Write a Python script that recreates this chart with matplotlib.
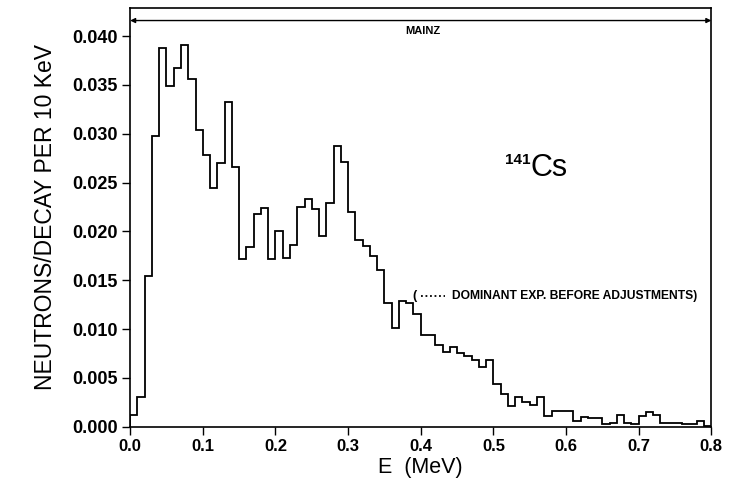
import numpy as np
import matplotlib.pyplot as plt

plt.rcParams['font.family'] = ['Liberation Sans', 'DejaVu Sans']

# neutron spectrum, 10 keV bins from 0 to 0.8 MeV
edges = np.round(np.arange(0, 81) * 0.01, 2)
counts = [
    0.0012, 0.0031, 0.0154, 0.0298, 0.0388, 0.0349, 0.0367, 0.0391, 0.0356, 0.0304,
    0.0278, 0.0245, 0.0270, 0.0333, 0.0266, 0.0172, 0.0184, 0.0218, 0.0224, 0.0172,
    0.0200, 0.0173, 0.0186, 0.0225, 0.0233, 0.0223, 0.0195, 0.0229, 0.0288, 0.0271,
    0.0220, 0.0191, 0.0185, 0.0175, 0.0161, 0.0127, 0.0101, 0.0129, 0.0127, 0.0116,
    0.0094, 0.0094, 0.0084, 0.0077, 0.0082, 0.0076, 0.0072, 0.0068, 0.0061, 0.0068,
    0.0044, 0.0034, 0.0021, 0.0031, 0.0025, 0.0022, 0.0031, 0.0011, 0.0016, 0.0016,
    0.0016, 0.0006, 0.0010, 0.0009, 0.0009, 0.0003, 0.0004, 0.0012, 0.0004, 0.0003,
    0.0011, 0.0015, 0.0012, 0.0004, 0.0004, 0.0004, 0.0003, 0.0003, 0.0006, 0.0001,
]
xticks = [0.0, 0.1, 0.2, 0.3, 0.4, 0.5, 0.6, 0.7, 0.8]
yticks = [0.000, 0.005, 0.010, 0.015, 0.020, 0.025, 0.030, 0.035, 0.040]

fig = plt.figure(figsize=(7.48, 4.90), dpi=100)
ax = fig.add_axes([0.174, 0.129, 0.777, 0.855])

ax.stairs(counts, edges, color='black', lw=1.3)

ax.set_xlim(0, 0.8)
ax.set_ylim(0, 0.0429)
ax.set_xticks(xticks)
ax.set_xticklabels(['%.1f' % t for t in xticks], fontweight='bold', fontsize=12)
ax.set_yticks(yticks)
ax.set_yticklabels(['%.3f' % t for t in yticks], fontweight='bold', fontsize=13)
ax.tick_params(direction='out', length=6, width=1, pad=3)
for s in ax.spines.values():
    s.set_linewidth(1.2)

ax.set_xlabel('E  (MeV)', fontsize=15.5, labelpad=2)
ax.set_ylabel('NEUTRONS/DECAY PER 10 KeV', fontsize=16.5, labelpad=11)

# Mainz range arrow along the top
ax.annotate('', xy=(0.8, 0.0416), xytext=(0.0, 0.0416),
            arrowprops=dict(arrowstyle='<|-|>', lw=1, color='black',
                            shrinkA=0, shrinkB=0, mutation_scale=7))
ax.text(0.403, 0.0405, 'MAINZ', ha='center', va='center', fontsize=8, fontweight='bold')

# isotope label
ax.text(0.516, 0.02695, '141', fontsize=11, fontweight='bold', ha='left', va='baseline')
ax.text(0.551, 0.0257, 'Cs', fontsize=22, ha='left', va='baseline')

# note on the dominant experiment
ax.text(0.388, 0.01335, '(', ha='left', va='center', fontsize=9, fontweight='bold')
ax.plot([0.401, 0.434], [0.01335, 0.01335], color='black', lw=1.3, ls=(0, (1, 1.5)))
ax.text(0.443, 0.01335, 'DOMINANT EXP. BEFORE ADJUSTMENTS)',
        ha='left', va='center', fontsize=8.7, fontweight='bold')

fig.savefig('out.png', dpi=100)
